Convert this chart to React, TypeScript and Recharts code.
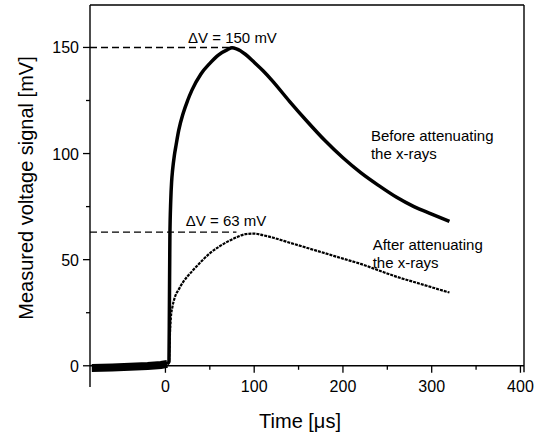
import React from 'react';
import {LineChart, Line, XAxis, YAxis, ReferenceLine, ReferenceDot} from 'recharts';

// time axis [µs] and voltage [mV]
const baselineTime = [-83, -60, -40, -20, -5, 2];
const baselineVoltage = [-1.0, -0.8, -0.5, -0.1, 0.4, 0.9];

const beforeTime = [2, 4, 4.5, 5, 6, 7, 8, 10, 12, 15, 20, 25, 30, 40, 50, 60, 70, 75, 80, 90, 100, 110, 120, 140, 160, 180, 200, 220, 240, 260, 280, 300, 320];
const beforeVoltage = [0.9, 2, 30, 60, 78, 87, 92, 99, 104, 111, 119, 125, 130, 137.5, 142.5, 146.5, 149, 149.8, 149.3, 146.8, 143, 139, 134.5, 124.5, 115, 106, 98, 91, 85, 79.5, 75, 71.5, 68];

const afterTime = [2, 4, 5, 6, 8, 10, 15, 20, 30, 40, 50, 60, 70, 80, 90, 100, 110, 120, 140, 160, 180, 200, 220, 240, 260, 280, 300, 320];
const afterVoltage = [0.9, 2, 14, 22, 28, 31.5, 36, 39.5, 44.5, 49, 53, 56, 58.5, 60.5, 62, 62.3, 61.5, 60.5, 58, 55.5, 53, 50.5, 48, 45, 42, 39.5, 37, 34.5];

const xTicks = [0, 50, 100, 150, 200, 250, 300, 350, 400];
const yTicks = [0, 25, 50, 75, 100, 125, 150];

// peak markers: level and where the dashed line stops
const peakLevels = [150, 63];
const peakEnds = [73, 80];
const peakLabels = ['ΔV = 150 mV', 'ΔV = 63 mV'];
const peakLabelX = [25.5, 23];
const peakLabelY = [152, 66];

const curveNotes = [['Before attenuating', 'the x-rays'], ['After attenuating', 'the x-rays']];
const curveNoteX = [231.5, 233.5];
const curveNoteY = [106, 54.6];

const W = 534;
const H = 438;
const X_AXIS_H = 1;
const MARGIN = {top: 5, right: 10, bottom: 51 - X_AXIS_H, left: 0};
const Y_AXIS_W = 90;
const X_DOMAIN: [number, number] = [-85, 404];
const Y_DOMAIN: [number, number] = [-10, 170];
const FONT = '"Liberation Sans", Arial, sans-serif';

const plotH = H - MARGIN.top - MARGIN.bottom - X_AXIS_H;
// distance from the bottom of the plot up to the zero line
const zeroOffset = (plotH * (0 - Y_DOMAIN[0])) / (Y_DOMAIN[1] - Y_DOMAIN[0]);

const toPoints = (xs: number[], ys: number[]) => xs.map((t, i) => ({t, v: ys[i]}));

const XTick = (props: any) => {
  const {x, y, payload} = props;
  const y0 = y - zeroOffset;
  const major = payload.value % 100 === 0;
  return (
    <g>
      <line x1={x} x2={x} y1={y0} y2={y0 + (major ? 7 : 4)} stroke='#000' strokeWidth={1.3} />
      {major && (
        <text x={x} y={y0 + 26} textAnchor='middle' fontSize={16} fontFamily={FONT} fill='#000'>
          {payload.value}
        </text>
      )}
    </g>
  );
};

const YTick = (props: any) => {
  const {x, y, payload} = props;
  const major = payload.value % 50 === 0;
  return (
    <g>
      <line x1={x - (major ? 7 : 4)} x2={x} y1={y} y2={y} stroke='#000' strokeWidth={1.3} />
      {major && (
        <text x={x - 11} y={y + 6} textAnchor='end' fontSize={16} fontFamily={FONT} fill='#000'>
          {payload.value}
        </text>
      )}
    </g>
  );
};

const note = (lines: string[], size: number) => (props: any) => {
  const {x, y} = props.viewBox;
  return (
    <text x={x} y={y} fontSize={size} fontFamily={FONT} fill='#000'>
      {lines.map((l, i) => (
        <tspan key={i} x={x} dy={i === 0 ? 0 : 18}>
          {l}
        </tspan>
      ))}
    </text>
  );
};

export default function App() {
  return (
    <div style={{position: 'absolute', left: 0, top: 0, width: W, height: H, background: '#fff'}}>
      <LineChart width={W} height={H} margin={MARGIN}>
        <XAxis
          type='number'
          dataKey='t'
          domain={X_DOMAIN}
          allowDataOverflow
          ticks={xTicks}
          interval={0}
          height={X_AXIS_H}
          axisLine={false}
          tickLine={false}
          tickSize={0}
          tickMargin={0}
          tick={<XTick />}
          label={(p: any) => (
            <text
              x={p.viewBox.x + p.viewBox.width / 2 - 7}
              y={p.viewBox.y + 41}
              textAnchor='middle'
              fontSize={20}
              fontFamily={FONT}
              fill='#000'
            >
              Time [μs]
            </text>
          )}
        />
        <YAxis
          type='number'
          domain={Y_DOMAIN}
          allowDataOverflow
          ticks={yTicks}
          interval={0}
          width={Y_AXIS_W}
          axisLine={{stroke: '#000', strokeWidth: 1.4}}
          tickLine={false}
          tickSize={0}
          tickMargin={0}
          tick={<YTick />}
          label={(p: any) => {
            const cx = 33;
            const cy = p.viewBox.y + p.viewBox.height / 2 - 8;
            return (
              <text
                x={cx}
                y={cy}
                textAnchor='middle'
                fontSize={20}
                fontFamily={FONT}
                fill='#000'
                transform={`rotate(-90, ${cx}, ${cy})`}
              >
                Measured voltage signal [mV]
              </text>
            );
          }}
        />

        {/* frame: top and right edges, and the time axis drawn on the zero line */}
        <ReferenceLine y={Y_DOMAIN[1]} stroke='#000' strokeWidth={1.4} />
        <ReferenceLine
          segment={[
            {x: X_DOMAIN[1], y: Y_DOMAIN[1]},
            {x: X_DOMAIN[1], y: -3},
          ]}
          stroke='#000'
          strokeWidth={1.4}
          ifOverflow='visible'
        />
        <ReferenceLine y={0} stroke='#000' strokeWidth={1.4} />

        {peakLevels.map((lvl, i) => (
          <ReferenceLine
            key={`peak-${i}`}
            segment={[
              {x: X_DOMAIN[0], y: lvl},
              {x: peakEnds[i], y: lvl},
            ]}
            stroke='#000'
            strokeWidth={1.4}
            strokeDasharray='7 4'
          />
        ))}

        <Line
          data={toPoints(baselineTime, baselineVoltage)}
          dataKey='v'
          stroke='#000'
          strokeWidth={8}
          dot={false}
          activeDot={false}
          isAnimationActive={false}
        />
        <Line
          data={toPoints(afterTime, afterVoltage)}
          dataKey='v'
          type='monotone'
          stroke='#000'
          strokeWidth={2.2}
          strokeDasharray='3 1'
          dot={false}
          activeDot={false}
          isAnimationActive={false}
        />
        <Line
          data={toPoints(beforeTime, beforeVoltage)}
          dataKey='v'
          type='monotone'
          stroke='#000'
          strokeWidth={3.5}
          dot={false}
          activeDot={false}
          isAnimationActive={false}
        />

        {peakLabels.map((txt, i) => (
          <ReferenceDot
            key={`pl-${i}`}
            x={peakLabelX[i]}
            y={peakLabelY[i]}
            r={0}
            fill='none'
            stroke='none'
            label={note([txt], 15)}
          />
        ))}
        {curveNotes.map((lines, i) => (
          <ReferenceDot
            key={`cn-${i}`}
            x={curveNoteX[i]}
            y={curveNoteY[i]}
            r={0}
            fill='none'
            stroke='none'
            label={note(lines, 15)}
          />
        ))}
      </LineChart>
    </div>
  );
}
